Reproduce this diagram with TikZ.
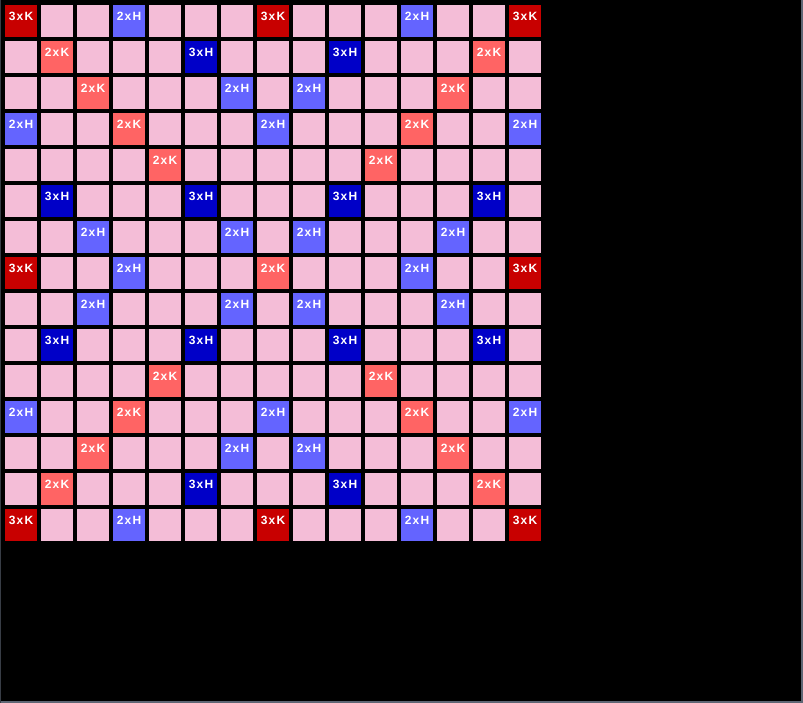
\documentclass[tikz,border=0pt]{standalone}
\usepackage{fontspec}
\setmainfont{Liberation Sans}
\definecolor{cpink}{HTML}{F4BDD7}
\definecolor{ctk}{HTML}{C80000}
\definecolor{cdk}{HTML}{FF6464}
\definecolor{cdh}{HTML}{6464FF}
\definecolor{cth}{HTML}{0000C8}
\definecolor{bordergray}{HTML}{5E6674}
\newcommand\tagtxt[2]{#1\kern1.2pt x\kern1.2pt #2}
\begin{document}
\begin{tikzpicture}[x=1pt,y=-1pt,
  cellbox/.style={draw=none, minimum size=32pt, inner sep=0pt, outer sep=0pt, fill=cpink},
  tag/.style={text=white, font=\fontsize{12}{12}\selectfont\bfseries, inner sep=0pt, yshift=4.5pt},
  tk/.style={fill=ctk, label={[tag]center:\tagtxt{3}{K}}},
  dk/.style={fill=cdk, label={[tag]center:\tagtxt{2}{K}}},
  dh/.style={fill=cdh, label={[tag]center:\tagtxt{2}{H}}},
  th/.style={fill=cth, label={[tag]center:\tagtxt{3}{H}}}]
\fill[black] (0,0) rectangle (803,703);
\fill[bordergray] (801,0) rectangle (803,703);
\fill[bordergray] (0,701) rectangle (803,703);
\fill[bordergray!60!black] (0,0) rectangle (1,703);
\useasboundingbox (0,0) rectangle (803,703);
\foreach \r in {0,...,14} {
  \foreach \c in {0,...,14} {
    \node[cellbox] (c-\r-\c) at ({21+36*\c},{21+36*\r}) {};
  }
}
\foreach \r/\c/\k in {
  0/0/tk,0/3/dh,0/7/tk,0/11/dh,0/14/tk,
  1/1/dk,1/5/th,1/9/th,1/13/dk,
  2/2/dk,2/6/dh,2/8/dh,2/12/dk,
  3/0/dh,3/3/dk,3/7/dh,3/11/dk,3/14/dh,
  4/4/dk,4/10/dk,
  5/1/th,5/5/th,5/9/th,5/13/th,
  6/2/dh,6/6/dh,6/8/dh,6/12/dh,
  7/0/tk,7/3/dh,7/7/dk,7/11/dh,7/14/tk,
  8/2/dh,8/6/dh,8/8/dh,8/12/dh,
  9/1/th,9/5/th,9/9/th,9/13/th,
  10/4/dk,10/10/dk,
  11/0/dh,11/3/dk,11/7/dh,11/11/dk,11/14/dh,
  12/2/dk,12/6/dh,12/8/dh,12/12/dk,
  13/1/dk,13/5/th,13/9/th,13/13/dk,
  14/0/tk,14/3/dh,14/7/tk,14/11/dh,14/14/tk} {
  \node[cellbox,\k] (s-\r-\c) at (c-\r-\c) {};
}
\end{tikzpicture}
\end{document}
